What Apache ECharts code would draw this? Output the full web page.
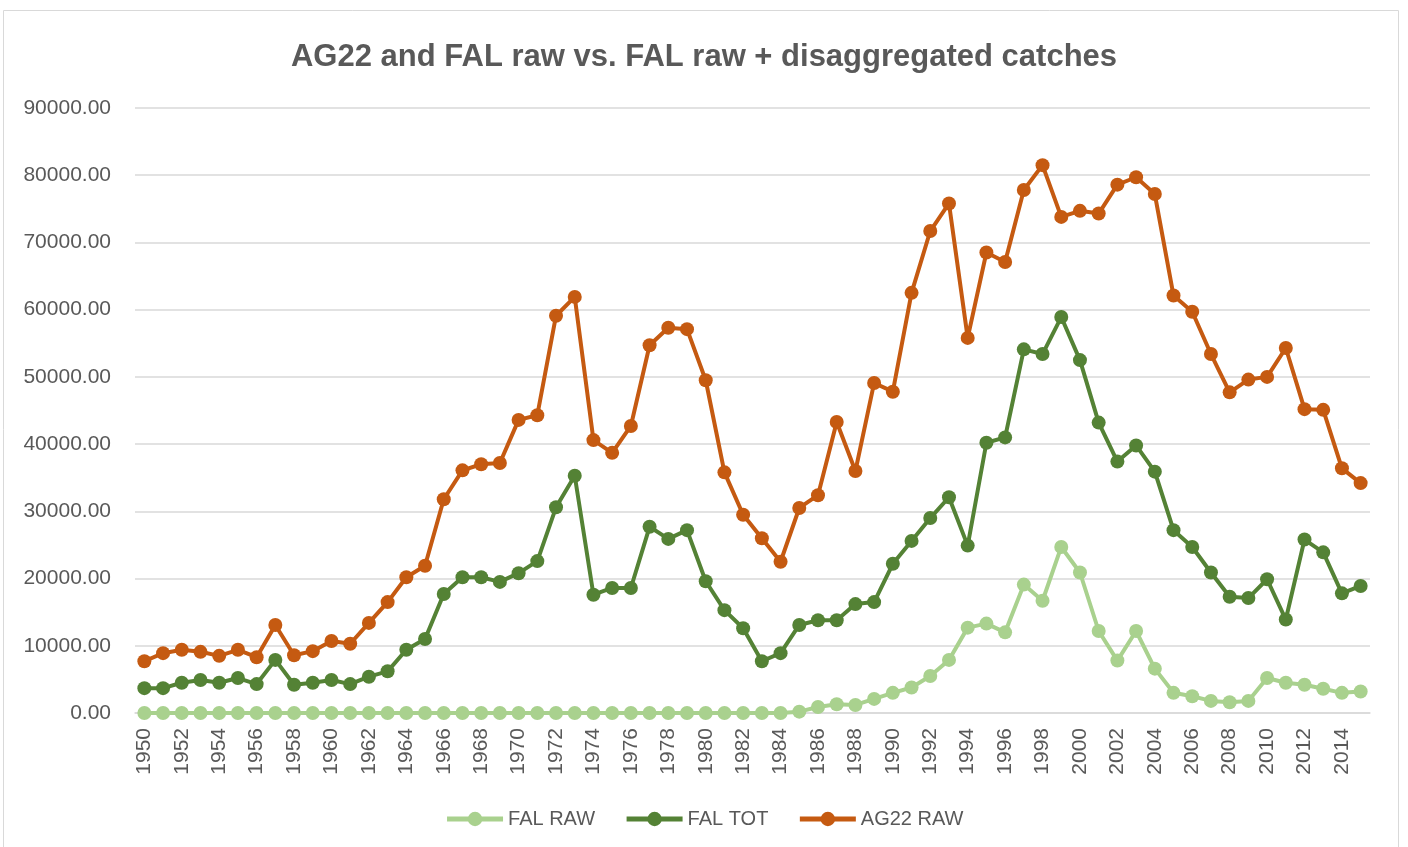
<!DOCTYPE html>
<html><head><meta charset="utf-8">
<script src="https://cdn.jsdelivr.net/npm/echarts@6/dist/echarts.min.js"></script>
<style>html,body{margin:0;padding:0;background:#fff}#c{width:1408px;height:847px}</style>
</head><body><div id="c"></div>
<script>
const years = [];
for (let y = 1950; y <= 2015; y++) years.push(String(y));

const falRaw = [
 0,0,0,0,0,0,0,0,0,0,
 0,0,0,0,0,0,0,0,0,0,
 0,0,0,0,0,0,0,0,0,0,
 0,0,0,0,0,200,900,1300,1200,2100,
 3000,3800,5500,7900,12700,13300,12000,19100,16700,24700,
 20900,12200,7800,12200,6600,3000,2500,1800,1600,1800,
 5200,4500,4200,3600,3000,3200];

const falTot = [
 3700,3700,4500,4900,4500,5200,4300,7900,4200,4500,
 4900,4300,5400,6200,9400,11000,17700,20200,20200,19500,
 20800,22600,30600,35300,17600,18600,18600,27700,25900,27200,
 19600,15300,12600,7700,8900,13100,13800,13800,16200,16500,
 22200,25600,29000,32100,24900,40200,41000,54100,53400,58900,
 52500,43200,37400,39800,35900,27200,24700,20900,17300,17100,
 19900,13900,25800,23900,17800,18900];

const ag22Raw = [
 7700,8900,9400,9100,8500,9400,8300,13100,8600,9200,
 10700,10300,13400,16500,20200,21900,31800,36100,37000,37200,
 43600,44300,59100,61900,40600,38700,42700,54700,57300,57100,
 49500,35800,29500,26000,22500,30500,32400,43300,36000,49100,
 47800,62500,71700,75800,55800,68500,67100,77800,81500,73800,
 74700,74300,78600,79700,77200,62100,59700,53400,47700,49600,
 50000,54300,45200,45100,36400,34200];

const chart = echarts.init(document.getElementById('c'));
const txt = '#595959';
const font = "'Liberation Sans', Arial, sans-serif";
function mk(name, data, color) {
  return {
    name, type: 'line', data,
    symbol: 'circle', symbolSize: 14, showAllSymbol: true,
    lineStyle: { width: 4, color },
    itemStyle: { color },
    emphasis: { disabled: true },
    animation: false
  };
}
chart.setOption({
  animation: false,
  textStyle: { fontFamily: font },
  title: {
    text: 'AG22 and FAL raw vs. FAL raw + disaggregated catches',
    left: 'center', top: 37,
    textStyle: { fontFamily: font, fontSize: 31, fontWeight: 'bold', color: txt }
  },
  graphic: [{
    type: 'rect', shape: { x: 3.5, y: 10.5, width: 1395, height: 845 },
    style: { fill: 'none', stroke: '#d9d9d9', lineWidth: 1 }, silent: true
  }],
  legend: {
    top: 804, left: 'center', itemWidth: 56, itemHeight: 18, itemGap: 29,
    lineStyle: { width: 5 },
    textStyle: { fontFamily: font, fontSize: 20, color: txt },
    data: ['FAL RAW', 'FAL TOT', 'AG22 RAW']
  },
  grid: { left: 135, right: 38, top: 108, bottom: 134, containLabel: false },
  xAxis: {
    type: 'category', data: years, boundaryGap: true,
    axisLine: { lineStyle: { color: '#d9d9d9', width: 1.5 } },
    axisTick: { show: false },
    axisLabel: { rotate: 90, interval: 1, color: txt, fontSize: 21, fontFamily: font, margin: 15 }
  },
  yAxis: {
    type: 'value', min: 0, max: 90000, interval: 10000,
    axisLine: { show: false }, axisTick: { show: false },
    splitLine: { lineStyle: { color: '#d9d9d9', width: 1.5 } },
    axisLabel: { color: txt, fontSize: 21, fontFamily: font, margin: 24,
      formatter: v => v.toFixed(2) }
  },
  series: [
    mk('FAL RAW', falRaw, '#A9D18E'),
    mk('FAL TOT', falTot, '#548235'),
    mk('AG22 RAW', ag22Raw, '#C55A11')
  ]
});
</script></body></html>
